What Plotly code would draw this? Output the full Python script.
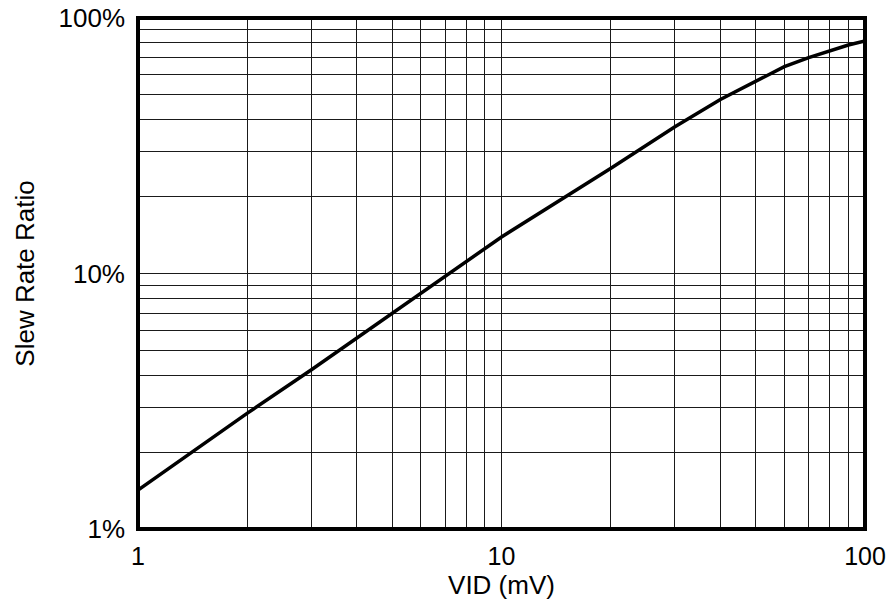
import plotly.graph_objects as go

# Slew rate ratio versus differential input voltage
vid_mv = [1, 2, 3, 5, 8, 10, 20, 30, 40, 50, 60, 70, 80, 90, 100]
slew_ratio_pct = [1.42, 2.84, 4.2, 7.0, 11.1, 13.9, 25.8, 37.5, 48.0, 56.3, 64.5, 70.0, 74.5, 78.4, 81.3]

x_grid = [1, 2, 3, 4, 5, 6, 7, 8, 9, 10, 20, 30, 40, 50, 60, 70, 80, 90, 100]
x_labels = {1: "1", 10: "10", 100: "100"}
y_grid = [1, 2, 3, 4, 5, 6, 7, 8, 9, 10, 20, 30, 40, 50, 60, 70, 80, 90, 100]
y_labels = {1: "1%", 10: "10%", 100: "100%"}

font_family = "Liberation Sans, Arial, sans-serif"
grid_color = "#1a1a1a"

fig = go.Figure()
fig.add_trace(go.Scatter(
    x=vid_mv, y=slew_ratio_pct, mode="lines",
    line=dict(color="black", width=3.5),
    showlegend=False, hoverinfo="skip",
))

fig.update_layout(
    width=889, height=605,
    margin=dict(l=138, r=24, t=18, b=76),
    paper_bgcolor="white", plot_bgcolor="white",
    font=dict(family=font_family, size=25, color="black"),
    xaxis=dict(
        type="log", range=[0, 2], automargin=False,
        tickvals=x_grid, ticktext=[x_labels.get(v, "") for v in x_grid],
        showgrid=True, gridcolor=grid_color, gridwidth=1,
        showline=False, zeroline=False, ticks="",
        tickfont=dict(size=25), ticklabelstandoff=10,
        title=dict(text="VID (mV)", font=dict(size=26), standoff=0),
    ),
    yaxis=dict(
        type="log", range=[0, 2], automargin=False,
        tickvals=y_grid, ticktext=[y_labels.get(v, "") for v in y_grid],
        showgrid=True, gridcolor=grid_color, gridwidth=1,
        showline=False, zeroline=False, ticks="",
        tickfont=dict(size=26), ticklabelstandoff=12,
        title=dict(text="Slew Rate Ratio", font=dict(size=26), standoff=16),
    ),
    shapes=[dict(
        type="rect", xref="paper", yref="paper", x0=0, x1=1, y0=0, y1=1,
        line=dict(color="black", width=4), fillcolor="rgba(0,0,0,0)",
        layer="above",
    )],
)

fig.write_html("out.html")
